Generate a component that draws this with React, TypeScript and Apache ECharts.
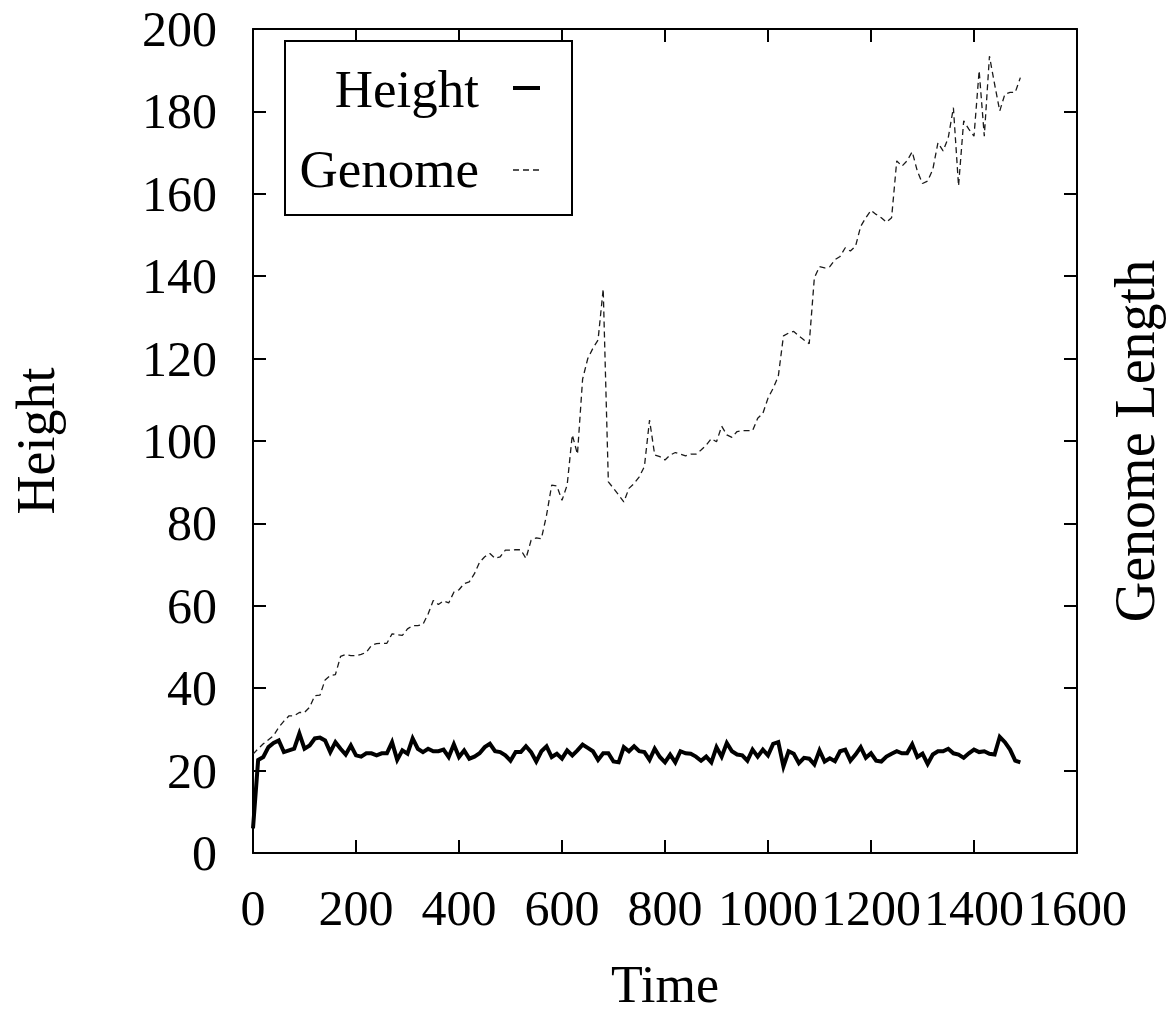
import React, { useEffect, useRef } from "react";
import * as echarts from "echarts";

const timeSteps = [
  0, 10, 20, 30, 40, 50, 60, 70, 80, 90,
  100, 110, 120, 130, 140, 150, 160, 170, 180, 190,
  200, 210, 220, 230, 240, 250, 260, 270, 280, 290,
  300, 310, 320, 330, 340, 350, 360, 370, 380, 390,
  400, 410, 420, 430, 440, 450, 460, 470, 480, 490,
  500, 510, 520, 530, 540, 550, 560, 570, 580, 590,
  600, 610, 620, 630, 640, 650, 660, 670, 680, 690,
  700, 710, 720, 730, 740, 750, 760, 770, 780, 790,
  800, 810, 820, 830, 840, 850, 860, 870, 880, 890,
  900, 910, 920, 930, 940, 950, 960, 970, 980, 990,
  1000, 1010, 1020, 1030, 1040, 1050, 1060, 1070, 1080, 1090,
  1100, 1110, 1120, 1130, 1140, 1150, 1160, 1170, 1180, 1190,
  1200, 1210, 1220, 1230, 1240, 1250, 1260, 1270, 1280, 1290,
  1300, 1310, 1320, 1330, 1340, 1350, 1360, 1370, 1380, 1390,
  1400, 1410, 1420, 1430, 1440, 1450, 1460, 1470, 1480, 1490,
];

const heightValues = [
  6, 22.6, 23.3, 25.7, 26.7, 27.3, 24.5, 24.9, 25.3, 29.0,
  25.3, 26.1, 27.8, 28.0, 27.3, 24.5, 26.9, 25.3, 23.9, 26.1,
  23.7, 23.4, 24.2, 24.2, 23.7, 24.2, 24.2, 26.9, 22.6, 24.9,
  24.1, 27.8, 25.3, 24.5, 25.3, 24.7, 24.7, 25.1, 23.3, 26.4,
  23.3, 24.9, 22.9, 23.4, 24.2, 25.7, 26.5, 24.7, 24.5, 23.7,
  22.4, 24.5, 24.5, 25.9, 24.5, 22.2, 24.7, 25.9, 23.3, 24.1,
  22.9, 24.9, 23.7, 24.9, 26.3, 25.5, 24.7, 22.6, 24.2, 24.2,
  22.2, 22.0, 25.7, 24.7, 25.9, 24.7, 24.5, 22.6, 25.3, 23.3,
  22.0, 23.9, 22.0, 24.7, 24.2, 24.1, 23.4, 22.4, 23.4, 22.0,
  25.7, 23.4, 26.7, 24.7, 23.9, 23.7, 22.4, 25.1, 23.4, 25.1,
  23.7, 26.5, 26.9, 21.0, 24.7, 24.1, 21.8, 23.1, 22.9, 21.5,
  24.9, 22.2, 23.0, 22.3, 24.7, 25.1, 22.4, 23.9, 25.7, 23.1,
  24.2, 22.4, 22.2, 23.4, 24.1, 24.7, 24.2, 24.2, 26.4, 23.3,
  24.1, 21.6, 23.9, 24.7, 24.7, 25.3, 24.2, 23.9, 23.1, 24.2,
  25.1, 24.5, 24.7, 24.1, 23.9, 28.2, 26.9, 25.1, 22.4, 22.0,
];

const genomeValues = [
  24.0, 25.3, 26.5, 27.5, 28.5, 30.5, 32.0, 33.3, 33.3, 34.1,
  34.1, 35.4, 38.2, 38.3, 42.0, 43.1, 43.3, 47.7, 48.2, 47.9,
  47.9, 48.2, 48.7, 50.4, 50.8, 50.9, 50.9, 53.2, 53.0, 52.8,
  54.4, 55.2, 55.2, 55.5, 58.0, 61.3, 60.3, 61.2, 60.7, 63.3,
  63.9, 65.4, 65.8, 67.8, 70.6, 71.9, 72.7, 71.5, 71.9, 73.5,
  73.5, 73.6, 73.6, 71.5, 75.9, 76.5, 76.3, 82.0, 89.3, 89.1,
  85.6, 89.3, 101.5, 96.8, 115.0, 120.0, 122.5, 124.5, 136.9, 90.1,
  88.5, 86.9, 85.2, 88.5, 89.7, 91.3, 93.8, 105.1, 96.6, 96.2,
  95.4, 96.6, 97.2, 96.8, 96.4, 96.8, 96.8, 97.8, 99.0, 100.6,
  99.8, 103.6, 101.5, 100.9, 102.3, 102.5, 102.5, 102.5, 105.5, 106.7,
  110.4, 112.8, 115.7, 125.5, 126.2, 126.6, 125.5, 124.5, 123.6, 139.6,
  142.3, 142.0, 142.3, 144.0, 144.8, 146.9, 146.1, 147.3, 152.1, 154.2,
  156.0, 155.0, 154.2, 153.1, 154.2, 168.0, 166.7, 168.0, 170.2, 165.5,
  162.5, 163.1, 165.9, 172.4, 170.4, 173.6, 180.9, 161.9, 177.7, 175.7,
  174.0, 189.9, 174.0, 193.4, 186.6, 180.1, 184.2, 184.6, 184.6, 188.2,
];

const seriesNames = ["Height", "Genome"];
const axisNames = { x: "Time", yLeft: "Height", yRight: "Genome Length" };

const FONT = "'Liberation Serif', 'Times New Roman', Times, serif";

export default function App() {
  const ref = useRef<HTMLDivElement>(null);

  useEffect(() => {
    if (!ref.current) return;
    const chart = echarts.init(ref.current, null, { renderer: "svg" });

    const lineStyle = { color: "#000", width: 2 };
    const tick = { show: true, inside: true, length: 13, lineStyle: { color: "#000", width: 2 } };
    const label = {
      color: "#000",
      fontFamily: FONT,
      fontSize: 50,
      showMinLabel: true,
      showMaxLabel: true,
      hideOverlap: false,
      formatter: (v: number) => String(v),
    };
    const nameStyle = { color: "#000", fontFamily: FONT, fontSize: 54 };

    const heightData = timeSteps.map((t, i) => [t, heightValues[i]]);
    const genomeData = timeSteps.map((t, i) => [t, genomeValues[i]]);

    chart.setOption({
      animation: false,
      backgroundColor: "#ffffff",
      grid: {
        left: 253,
        top: 29,
        right: 89,
        bottom: 158,
        containLabel: false,
        outerBoundsMode: "none",
      },
      xAxis: [
        {
          type: "value",
          position: "bottom",
          min: 0,
          max: 1600,
          interval: 200,
          axisLine: { show: true, onZero: false, lineStyle },
          axisTick: tick,
          axisLabel: { ...label, margin: 30 },
          splitLine: { show: false },
          name: axisNames.x,
          nameLocation: "middle",
          nameGap: 105,
          nameTextStyle: { ...nameStyle, fontSize: 52, lineHeight: 52 },
        },
        {
          type: "value",
          position: "top",
          min: 0,
          max: 1600,
          interval: 200,
          axisLine: { show: true, onZero: false, lineStyle },
          axisTick: tick,
          axisLabel: { show: false },
          splitLine: { show: false },
        },
      ],
      yAxis: [
        {
          type: "value",
          position: "left",
          min: 0,
          max: 200,
          interval: 20,
          axisLine: { show: true, onZero: false, lineStyle },
          axisTick: tick,
          axisLabel: { ...label, margin: 36 },
          splitLine: { show: false },
          name: axisNames.yLeft,
          nameLocation: "middle",
          nameRotate: 90,
          nameGap: 190,
          nameTextStyle: nameStyle,
        },
        {
          type: "value",
          position: "right",
          min: 0,
          max: 200,
          interval: 20,
          axisLine: { show: true, onZero: false, lineStyle },
          axisTick: tick,
          axisLabel: { show: false },
          splitLine: { show: false },
          name: axisNames.yRight,
          nameLocation: "middle",
          nameRotate: 90,
          nameGap: 30,
          nameTextStyle: { ...nameStyle, fontSize: 56 },
        },
      ],
      series: [
        {
          name: seriesNames[0],
          type: "line",
          xAxisIndex: 0,
          yAxisIndex: 0,
          data: heightData,
          showSymbol: false,
          symbol: "none",
          lineStyle: { color: "#000", width: 4, join: "miter" },
          z: 3,
        },
        {
          name: seriesNames[1],
          type: "line",
          xAxisIndex: 0,
          yAxisIndex: 1,
          data: genomeData,
          showSymbol: false,
          symbol: "none",
          lineStyle: { color: "#1a1a1a", width: 1.3, type: [6, 4] },
          z: 2,
        },
      ],
      graphic: [
        {
          type: "rect",
          shape: { x: 285, y: 41, width: 287, height: 174 },
          style: { fill: "#fff", stroke: "#000", lineWidth: 2 },
          z: 10,
        },
        {
          type: "text",
          x: 479,
          y: 89,
          style: {
            text: seriesNames[0],
            font: `53px ${FONT}`,
            fill: "#000",
            align: "right",
            verticalAlign: "middle",
          },
          z: 11,
        },
        {
          type: "line",
          shape: { x1: 513, y1: 88, x2: 540, y2: 88 },
          style: { stroke: "#000", lineWidth: 4 },
          z: 11,
        },
        {
          type: "text",
          x: 479,
          y: 169,
          style: {
            text: seriesNames[1],
            font: `53px ${FONT}`,
            fill: "#000",
            align: "right",
            verticalAlign: "middle",
          },
          z: 11,
        },
        {
          type: "line",
          shape: { x1: 513, y1: 170, x2: 540, y2: 170 },
          style: { stroke: "#1a1a1a", lineWidth: 1.3, lineDash: [6, 4] },
          z: 11,
        },
      ],
    });

    return () => chart.dispose();
  }, []);

  return (
    <div
      ref={ref}
      style={{ position: "absolute", left: 0, top: 0, width: 1166, height: 1011 }}
    />
  );
}
